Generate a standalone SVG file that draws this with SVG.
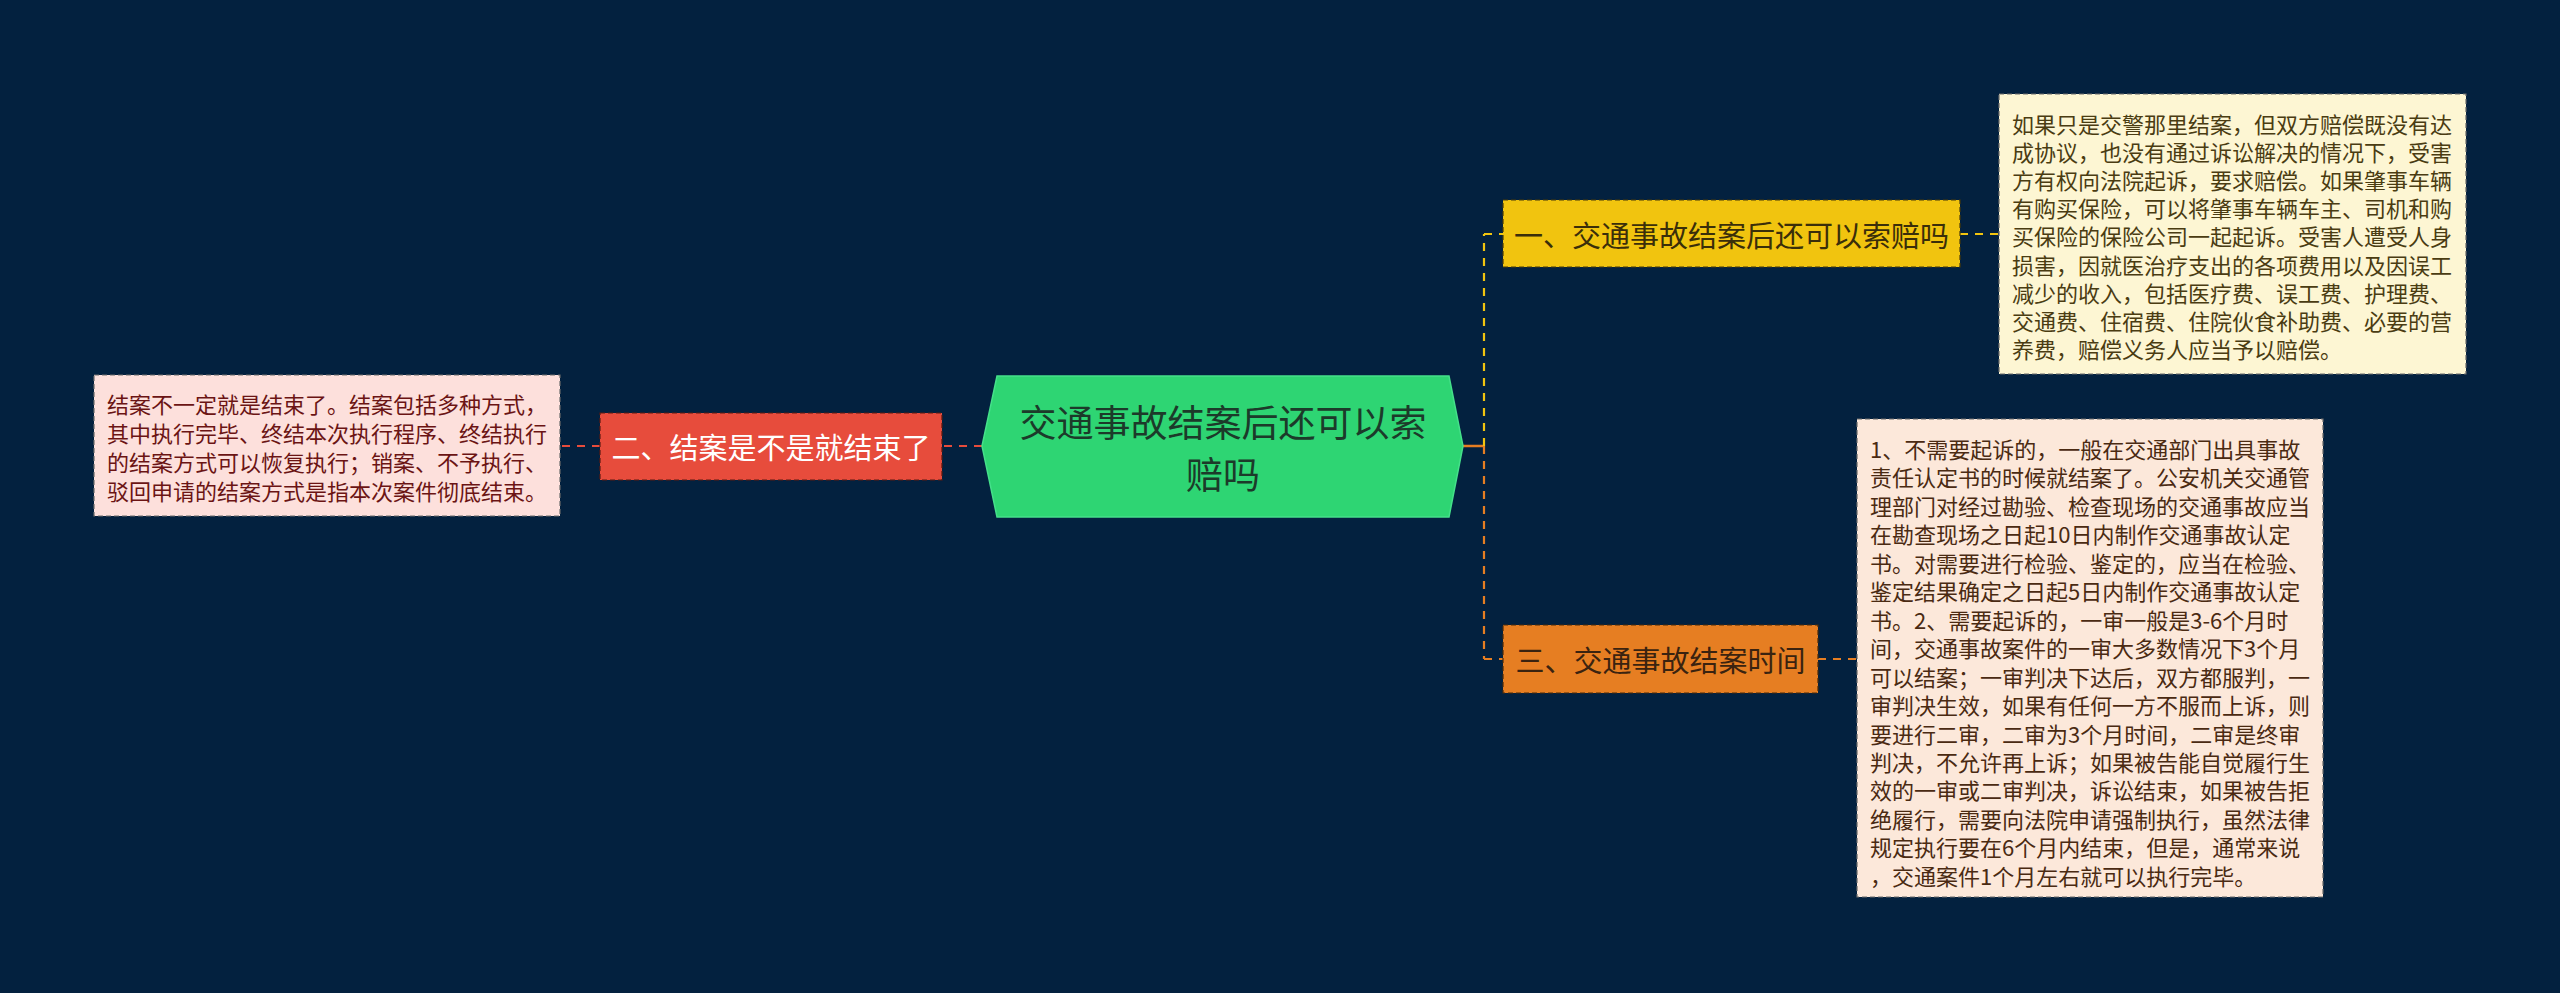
<svg xmlns="http://www.w3.org/2000/svg" width="2560" height="993" viewBox="0 0 2560 993">
<style>
.bg{fill:#03213f}
.cn{fill:none;stroke-width:2.2;stroke-dasharray:8 7}
.nb{stroke-width:1.2;stroke-dasharray:5 3}
.lf{stroke:#6a6a6a;stroke-width:1.2;stroke-dasharray:5 3}
.t{font-family:"Noto Sans CJK SC","Noto Sans",sans-serif;dominant-baseline:central}
.nt{font-size:29px}
.lt{font-size:22px}
</style>
<rect class="bg" x="0" y="0" width="2560" height="993"/>
<g id="connectors">
<line class="cn" x1="982" y1="446" x2="942" y2="446" stroke="#e74c3c"/>
<line class="cn" x1="600" y1="446" x2="560" y2="446" stroke="#e74c3c"/>
<line x1="1463" y1="446" x2="1484" y2="446" stroke="#e67e22" stroke-width="2.5"/>
<line class="cn" x1="1484" y1="446" x2="1484" y2="234" stroke="#f1c40f"/>
<line class="cn" x1="1484" y1="234" x2="1503" y2="234" stroke="#f1c40f"/>
<line class="cn" x1="1484" y1="446" x2="1484" y2="659" stroke="#e67e22"/>
<line class="cn" x1="1484" y1="659" x2="1503" y2="659" stroke="#e67e22"/>
<line class="cn" x1="1960" y1="234" x2="1999" y2="234" stroke="#f1c40f"/>
<line class="cn" x1="1818" y1="659" x2="1857" y2="659" stroke="#e67e22"/>
</g>
<g id="root">
<polygon points="982,446 997,376 1449,376 1463,446 1449,517 997,517" fill="#2ed573" stroke="#45e08a" stroke-width="1.5"/>
<text class="t" x="1223" y="421" font-size="37" fill="#1c3a2a" text-anchor="middle">交通事故结案后还可以索</text>
<text class="t" x="1223" y="473" font-size="37" fill="#1c3a2a" text-anchor="middle">赔吗</text>
</g>
<g id="node1">
<rect class="nb" x="1503" y="200" width="457" height="67" fill="#f1c40f" stroke="#4a3a08"/>
<text class="t nt" x="1731.5" y="234" fill="#3a2e0a" text-anchor="middle">一、交通事故结案后还可以索赔吗</text>
</g>
<g id="node2">
<rect class="nb" x="600" y="413" width="342" height="67" fill="#e74c3c" stroke="#5a1a12"/>
<text class="t nt" x="771" y="446" fill="#ffffff" text-anchor="middle">二、结案是不是就结束了</text>
</g>
<g id="node3">
<rect class="nb" x="1503" y="625" width="315" height="68" fill="#e67e22" stroke="#4a2a0a"/>
<text class="t nt" x="1660.5" y="659" fill="#3a2310" text-anchor="middle">三、交通事故结案时间</text>
</g>
<g id="leaf1">
<rect class="lf" x="1999" y="94" width="467" height="280" fill="#fdf6d3"/>
<g class="t lt" fill="#4a3c12">
<text x="2012" y="122.5">如果只是交警那里结案，但双方赔偿既没有达</text>
<text x="2012" y="150.7">成协议，也没有通过诉讼解决的情况下，受害</text>
<text x="2012" y="178.9">方有权向法院起诉，要求赔偿。如果肇事车辆</text>
<text x="2012" y="207.1">有购买保险，可以将肇事车辆车主、司机和购</text>
<text x="2012" y="235.3">买保险的保险公司一起起诉。受害人遭受人身</text>
<text x="2012" y="263.5">损害，因就医治疗支出的各项费用以及因误工</text>
<text x="2012" y="291.7">减少的收入，包括医疗费、误工费、护理费、</text>
<text x="2012" y="319.9">交通费、住宿费、住院伙食补助费、必要的营</text>
<text x="2012" y="348.1">养费，赔偿义务人应当予以赔偿。</text>
</g>
</g>
<g id="leaf2">
<rect class="lf" x="94" y="375" width="466" height="141" fill="#fde0dc"/>
<g class="t lt" fill="#6b1414">
<text x="107" y="403">结案不一定就是结束了。结案包括多种方式，</text>
<text x="107" y="432">其中执行完毕、终结本次执行程序、终结执行</text>
<text x="107" y="461">的结案方式可以恢复执行；销案、不予执行、</text>
<text x="107" y="490">驳回申请的结案方式是指本次案件彻底结束。</text>
</g>
</g>
<g id="leaf3">
<rect class="lf" x="1857" y="419" width="466" height="478" fill="#fce8da"/>
<g class="t lt" fill="#4a2a12">
<text x="1870" y="448">1、不需要起诉的，一般在交通部门出具事故</text>
<text x="1870" y="476.45">责任认定书的时候就结案了。公安机关交通管</text>
<text x="1870" y="504.9">理部门对经过勘验、检查现场的交通事故应当</text>
<text x="1870" y="533.35">在勘查现场之日起10日内制作交通事故认定</text>
<text x="1870" y="561.8">书。对需要进行检验、鉴定的，应当在检验、</text>
<text x="1870" y="590.25">鉴定结果确定之日起5日内制作交通事故认定</text>
<text x="1870" y="618.7">书。2、需要起诉的，一审一般是3-6个月时</text>
<text x="1870" y="647.15">间，交通事故案件的一审大多数情况下3个月</text>
<text x="1870" y="675.6">可以结案；一审判决下达后，双方都服判，一</text>
<text x="1870" y="704.05">审判决生效，如果有任何一方不服而上诉，则</text>
<text x="1870" y="732.5">要进行二审，二审为3个月时间，二审是终审</text>
<text x="1870" y="760.95">判决，不允许再上诉；如果被告能自觉履行生</text>
<text x="1870" y="789.4">效的一审或二审判决，诉讼结束，如果被告拒</text>
<text x="1870" y="817.85">绝履行，需要向法院申请强制执行，虽然法律</text>
<text x="1870" y="846.3">规定执行要在6个月内结束，但是，通常来说</text>
<text x="1870" y="874.75">，交通案件1个月左右就可以执行完毕。</text>
</g>
</g>
</svg>
